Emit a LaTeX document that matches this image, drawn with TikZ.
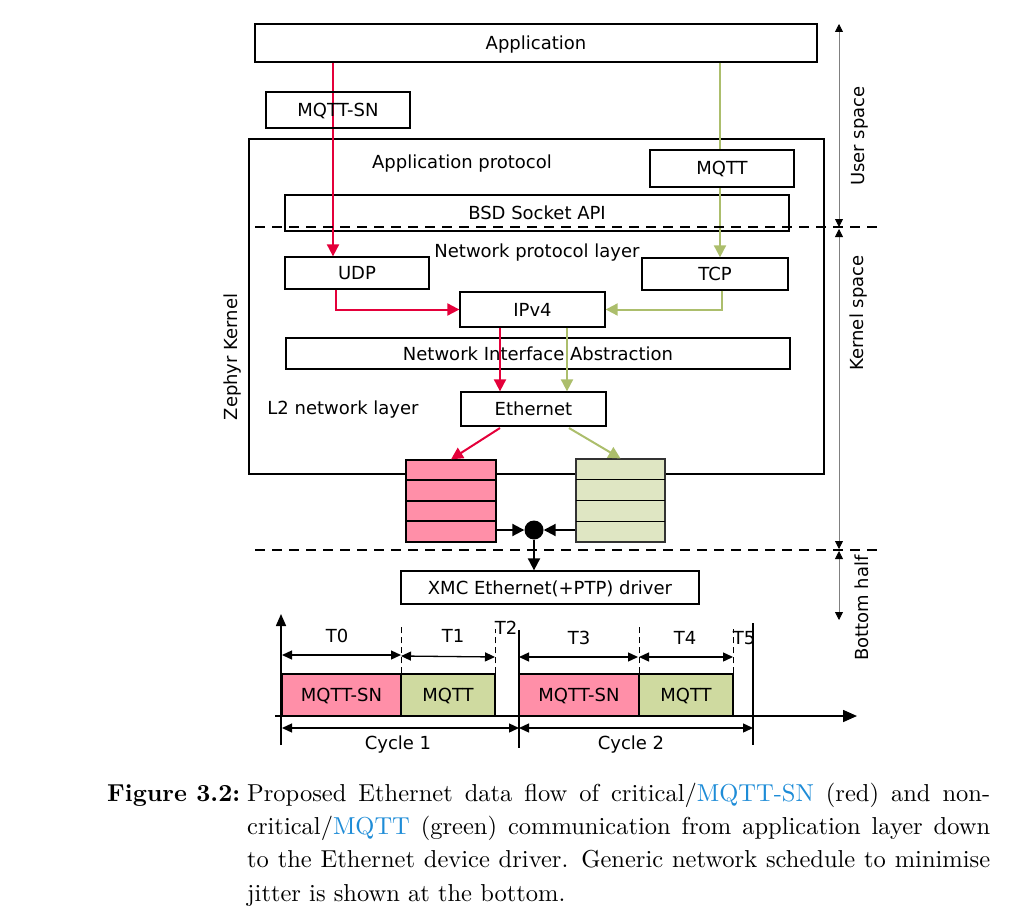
\documentclass[tikz,border=0pt]{standalone}
\usepackage{fontspec}
\newfontfamily\dv{DejaVu Sans}
\newfontfamily\capfont{lmroman10-regular.otf}[BoldFont=lmroman10-bold.otf]
\usetikzlibrary{arrows.meta}
\definecolor{redl}{RGB}{228,0,58}
\definecolor{greenl}{RGB}{172,190,108}
\definecolor{pinkf}{RGB}{255,143,168}
\definecolor{greenqf}{RGB}{223,230,195}
\definecolor{greentf}{RGB}{207,218,160}
\definecolor{linkblue}{RGB}{30,140,215}
\begin{document}
\begin{tikzpicture}[x=1pt,y=-1pt,
  box/.style={draw, line width=1.3pt, inner sep=0pt, text height=13pt, text depth=0pt, font=\dv\fontsize{18}{20}\selectfont},
  lbl/.style={inner sep=0pt, text height=13pt, text depth=0pt, font=\dv\fontsize{18}{20}\selectfont},
  redarrow/.style={draw=redl, line width=2pt, -{Triangle[length=12pt,width=12pt]}, color=redl},
  greenarrow/.style={draw=greenl, line width=2pt, -{Triangle[length=12pt,width=12pt]}, color=greenl},
  blackarrow/.style={line width=2pt, -{Triangle[length=12pt,width=12pt]}},
  spacearrow/.style={draw=gray, line width=0.8pt, {Triangle[length=8pt,width=8pt,color=black]}-{Triangle[length=8pt,width=8pt,color=black]}},
  dimarrow/.style={line width=1.3pt, {Triangle[length=10pt,width=9pt]}-{Triangle[length=10pt,width=9pt]}},
  sepline/.style={line width=1.6pt, dash pattern=on 10pt off 7pt},
  tdash/.style={line width=1pt, dash pattern=on 6pt off 4pt},
  slot/.style={draw, line width=1.3pt, inner sep=0pt, minimum height=42pt, text height=13pt, text depth=0pt, font=\dv\fontsize{18}{20}\selectfont}
]
\useasboundingbox (0,0) rectangle (1030,912);

% ---------- boxes ----------
\node[box, minimum width=562pt, minimum height=38pt] (app) at (536,43) {Application};
\node[box, minimum width=575pt, minimum height=335pt] (zephyr) at (536.5,306.5) {};
\node[lbl] (approt) at (462,162) {Application protocol};
\node[box, minimum width=504pt, minimum height=36pt] (bsd) at (537,213) {BSD Socket API};
\node[lbl] (netprot) at (537,251) {Network protocol layer};
\node[box, minimum width=144pt, minimum height=32pt] (udp) at (357,273) {UDP};
\node[box, minimum width=146pt, minimum height=32pt] (tcp) at (715,274) {TCP};
\node[box, minimum width=145pt, minimum height=35pt] (ipv4) at (532.5,309.5) {IPv4};
\node[box, minimum width=504pt, minimum height=31pt] (nia) at (538,353.5) {Network Interface Abstraction};
\node[lbl] (l2) at (343,408) {L2 network layer};
\node[box, minimum width=145pt, minimum height=34pt] (eth) at (533.5,409) {Ethernet};
\node[lbl, rotate=90] (zk) at (231,357) {Zephyr Kernel};

% ---------- coordinates for flow lines ----------
\coordinate (rx1) at (333,0);
\coordinate (rx2) at (336,0);
\coordinate (rx3) at (500,0);
\coordinate (gx1) at (720,0);
\coordinate (gx2) at (722,0);
\coordinate (gx3) at (567,0);
\coordinate (ers) at (500,428);
\coordinate (egs) at (569,428);

% ---------- red path ----------
\draw[redarrow] (app.south -| rx1) -- (udp.north -| rx1);
\draw[redarrow] (udp.south -| rx2) |- (ipv4.west);
\draw[redarrow] (ipv4.south -| rx3) -- (eth.north -| rx3);

% ---------- green path ----------
\draw[greenarrow] (app.south -| gx1) -- (tcp.north -| gx1);
\draw[greenarrow] (tcp.south -| gx2) |- (ipv4.east);
\draw[greenarrow] (ipv4.south -| gx3) -- (eth.north -| gx3);

% protocol boxes drawn over the lines
\node[box, minimum width=144pt, minimum height=36pt] (mqttsn) at (338,110) {MQTT-SN};
\node[box, fill=white, minimum width=144pt, minimum height=37pt] (mqtt) at (722,168.5) {MQTT};

% ---------- queues ----------
\node[draw, line width=1.3pt, fill=pinkf, minimum width=90pt, minimum height=82pt, inner sep=0pt] (redq) at (451,501) {};
\draw[line width=1.3pt] (406,480) -- (496,480) (406,501) -- (496,501) (406,521) -- (496,521);
\node[draw=black!80, line width=1.1pt, fill=greenqf, minimum width=89pt, minimum height=83pt, inner sep=0pt] (greenq) at (620.5,500.5) {};
\draw[line width=1pt] (576,479) -- (665,479) (576,500) -- (665,500) (576,521) -- (665,521);

\draw[redarrow] (ers) -- (redq.north);
\draw[greenarrow] (egs) -- (greenq.north);

\node[circle, fill=black, minimum size=19pt, inner sep=0pt] (dot) at (534,530) {};
\node[box, minimum width=298pt, minimum height=33pt] (xmc) at (550,587.5) {XMC Ethernet(+PTP) driver};
\draw[blackarrow] (redq.east |- dot) -- (dot.west);
\draw[blackarrow] (greenq.west |- dot) -- (dot.east);
\draw[blackarrow] (dot.south) -- (xmc.north -| dot);

% ---------- separators ----------
\draw[sepline] (255,227) -- (880,227);
\draw[sepline] (255,550) -- (880,550);

% ---------- space arrows ----------
\coordinate (s0) at (839,24);
\coordinate (s1) at (839,227);
\coordinate (s1b) at (839,229);
\coordinate (s2) at (839,549);
\coordinate (s2b) at (839,551);
\coordinate (s3) at (839,620);
\draw[spacearrow] (s0) -- (s1);
\draw[spacearrow] (s1b) -- (s2);
\draw[spacearrow] (s2b) -- (s3);
\node[lbl, rotate=90] (us) at (858,136) {User space};
\node[lbl, rotate=90] (ks) at (857,313) {Kernel space};
\node[lbl, rotate=90] (bh) at (862,608) {Bottom half};

% ---------- timeline ----------
\draw[line width=1.6pt, -{Triangle[length=14pt,width=12pt]}] (275,716) -- (857,716);
\draw[line width=1.6pt, -{Triangle[length=12pt,width=10pt]}] (281,745) -- (281,614);
\node[slot, fill=pinkf, minimum width=119pt] (ts1) at (341.5,695) {MQTT-SN};
\node[slot, fill=greentf, minimum width=94pt] (tm1) at (448,695) {MQTT};
\node[slot, fill=pinkf, minimum width=120pt] (ts2) at (579,695) {MQTT-SN};
\node[slot, fill=greentf, minimum width=94pt] (tm2) at (686,695) {MQTT};

\draw[tdash] (ts1.north east) -- ++(0,-46);
\draw[tdash] (tm1.north east) -- ++(0,-44);
\draw[tdash] (ts2.north east) -- ++(0,-46);
\draw[tdash] (tm2.north east) -- ++(0,-44);
\draw[line width=1.3pt] (519,630) -- (519,748);
\draw[line width=1.3pt] (753,623) -- (753,745);

\draw[dimarrow] (282,655) -- (401,655);
\draw[dimarrow] (401,656) -- (495,657);
\draw[dimarrow] (519,657) -- (638,657);
\draw[dimarrow] (639,657) -- (733,657);
\draw[dimarrow] (282,728) -- (519,728);
\draw[dimarrow] (519,728) -- (753,728);

\node[lbl] (t0) at (337,636) {T0};
\node[lbl] (t1) at (453,636) {T1};
\node[lbl] (t2) at (506,628) {T2};
\node[lbl] (t3) at (579,638) {T3};
\node[lbl] (t4) at (685,638) {T4};
\node[lbl] (t5) at (744,638) {T5};
\node[lbl] (c1) at (398,743) {Cycle 1};
\node[lbl] (c2) at (631,743) {Cycle 2};

% ---------- caption ----------
\node[anchor=base west, inner sep=0pt, font=\capfont\fontsize{24.5}{33.4}\selectfont\bfseries] (figlbl) at (107,801) {Figure 3.2:};
\node[anchor=base west, inner sep=0pt, text width=743pt, align=justify, font=\capfont\fontsize{24.5}{33.4}\selectfont] (cap) at (247,801)
{Proposed Ethernet data flow of critical/\textcolor{linkblue}{MQTT-SN} (red) and non-\linebreak critical/\textcolor{linkblue}{MQTT} (green) communication from application layer down\linebreak to the Ethernet device driver. Generic network schedule to minimise\linebreak jitter is shown at the bottom.};
\end{tikzpicture}
\end{document}
